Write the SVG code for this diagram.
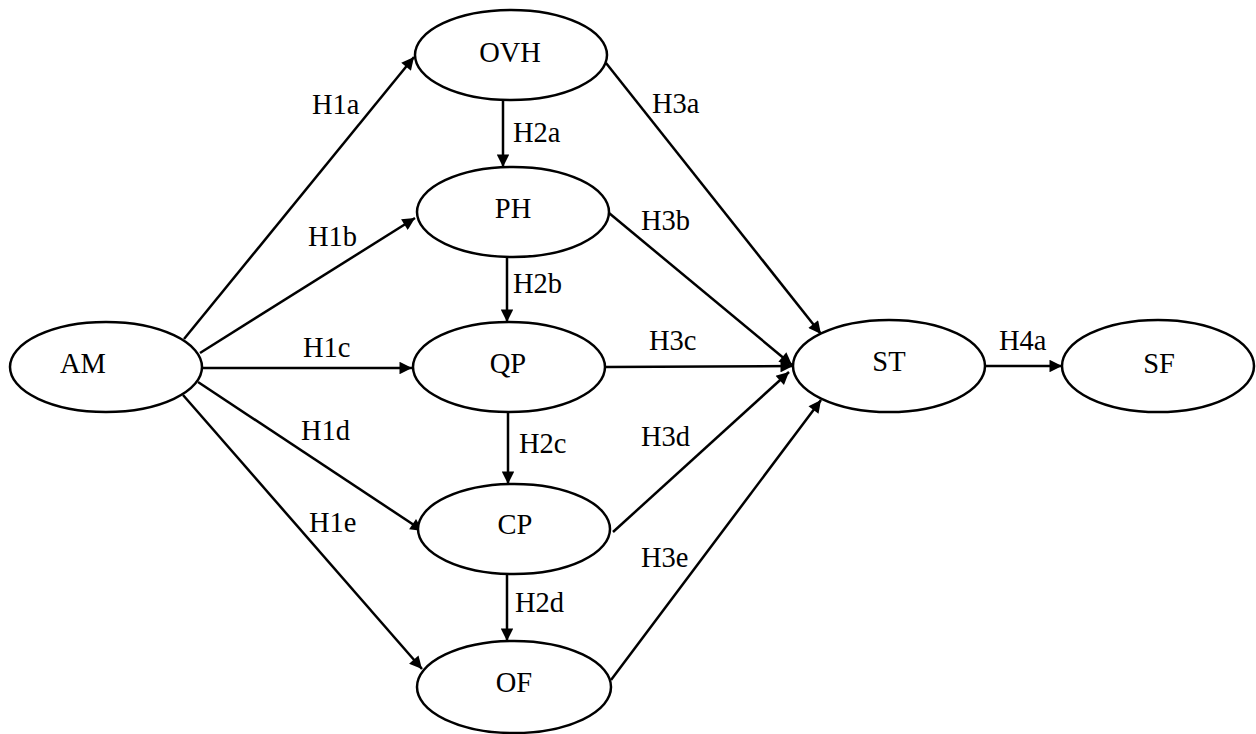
<svg xmlns="http://www.w3.org/2000/svg" width="1256" height="734" viewBox="0 0 1256 734">
  <style>
    .node ellipse { fill: #ffffff; stroke: #000000; stroke-width: 2.5; }
    .node text, .lbl { font-family: "Liberation Serif", "Times New Roman", serif; font-size: 28.5px; fill: #000000; }
    .node text { text-anchor: middle; }
    .edge { stroke: #000000; stroke-width: 2.5; fill: none; marker-end: url(#arrow); }
  </style>
  <defs>
    <marker id="arrow" viewBox="0 0 10 10" refX="10" refY="5" markerWidth="6.4" markerHeight="5" markerUnits="strokeWidth" orient="auto">
      <path d="M0,0 L10,5 L0,10 Z" fill="#000000"/>
    </marker>
  </defs>
  <rect width="1256" height="734" fill="#ffffff"/>

  <g id="connectors">
    <!-- AM to the five mediators -->
    <line class="edge" x1="184" y1="339" x2="414" y2="57"/>
    <line class="edge" x1="200" y1="353" x2="415" y2="218"/>
    <line class="edge" x1="203" y1="368" x2="412" y2="368"/>
    <line class="edge" x1="198" y1="382" x2="423" y2="531"/>
    <line class="edge" x1="183" y1="395" x2="422" y2="669"/>
    <!-- chain down the middle column -->
    <line class="edge" x1="503" y1="101" x2="503" y2="167"/>
    <line class="edge" x1="507" y1="257" x2="507" y2="322"/>
    <line class="edge" x1="508" y1="412" x2="508" y2="484"/>
    <line class="edge" x1="507" y1="573" x2="507" y2="641"/>
    <!-- mediators to ST -->
    <line class="edge" x1="606" y1="63" x2="821" y2="334"/>
    <line class="edge" x1="609" y1="213" x2="792" y2="365"/>
    <line class="edge" x1="605" y1="367" x2="793" y2="366"/>
    <line class="edge" x1="613" y1="532" x2="789" y2="372"/>
    <line class="edge" x1="611" y1="680" x2="821" y2="400"/>
    <!-- ST to SF -->
    <line class="edge" x1="986" y1="366" x2="1062" y2="366"/>
  </g>

  <g id="edge-labels">
    <text class="lbl" x="312" y="114">H1a</text>
    <text class="lbl" x="308" y="246">H1b</text>
    <text class="lbl" x="303" y="357">H1c</text>
    <text class="lbl" x="301" y="440">H1d</text>
    <text class="lbl" x="309" y="532">H1e</text>
    <text class="lbl" x="513" y="142">H2a</text>
    <text class="lbl" x="513" y="293">H2b</text>
    <text class="lbl" x="519" y="453">H2c</text>
    <text class="lbl" x="515" y="612">H2d</text>
    <text class="lbl" x="652" y="113">H3a</text>
    <text class="lbl" x="641" y="230">H3b</text>
    <text class="lbl" x="649" y="350">H3c</text>
    <text class="lbl" x="641" y="446">H3d</text>
    <text class="lbl" x="641" y="567">H3e</text>
    <text class="lbl" x="999" y="350">H4a</text>
  </g>

  <g id="AM" class="node">
    <ellipse cx="106" cy="367" rx="96" ry="45"/>
    <text x="83" y="373">AM</text>
  </g>
  <g id="OVH" class="node">
    <ellipse cx="511" cy="55" rx="96" ry="45"/>
    <text x="510" y="62">OVH</text>
  </g>
  <g id="PH" class="node">
    <ellipse cx="513" cy="212" rx="96" ry="45"/>
    <text x="513" y="218">PH</text>
  </g>
  <g id="QP" class="node">
    <ellipse cx="509" cy="367" rx="96" ry="45"/>
    <text x="508" y="373">QP</text>
  </g>
  <g id="CP" class="node">
    <ellipse cx="514" cy="529" rx="96" ry="45"/>
    <text x="515" y="534">CP</text>
  </g>
  <g id="OF" class="node">
    <ellipse cx="514" cy="687" rx="97" ry="46"/>
    <text x="514" y="692">OF</text>
  </g>
  <g id="ST" class="node">
    <ellipse cx="889" cy="366" rx="96" ry="46"/>
    <text x="889" y="371">ST</text>
  </g>
  <g id="SF" class="node">
    <ellipse cx="1158" cy="366" rx="96" ry="46"/>
    <text x="1159" y="373">SF</text>
  </g>
</svg>
